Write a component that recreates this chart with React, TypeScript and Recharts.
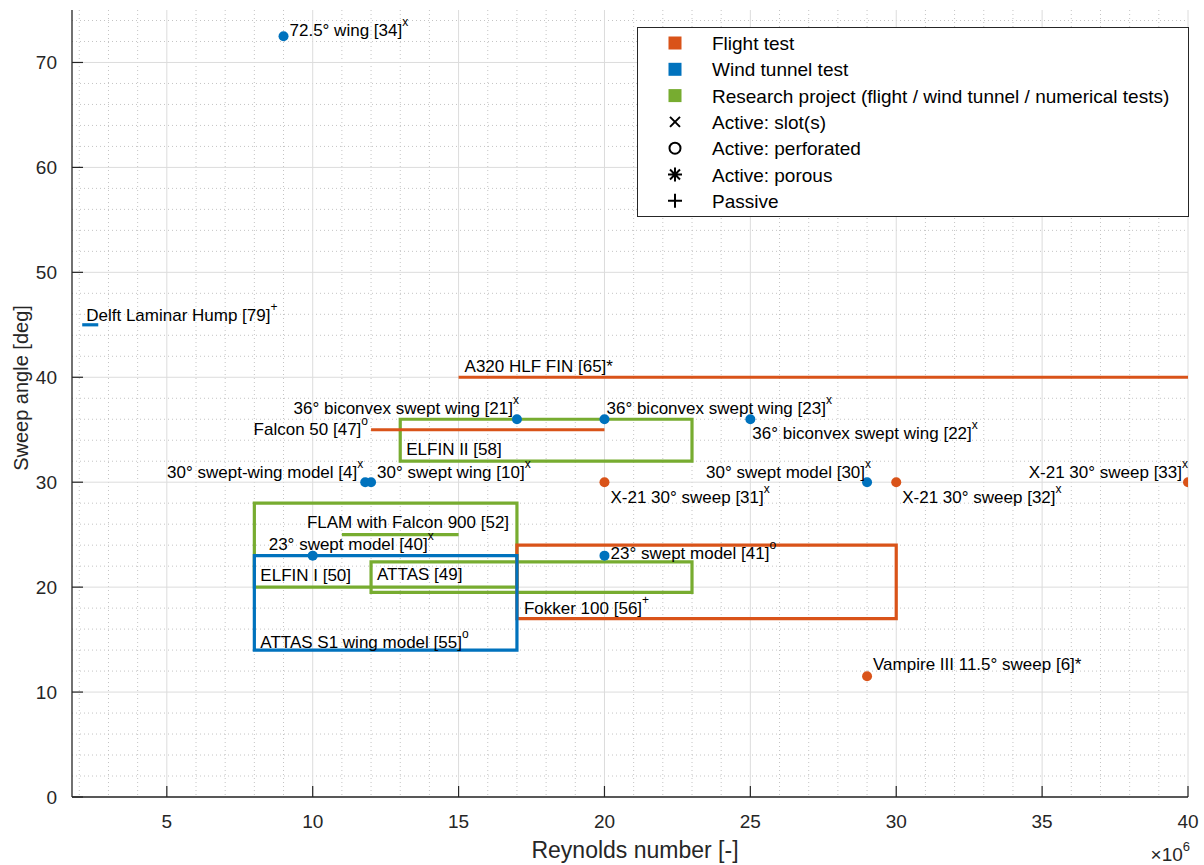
import React from 'react';
import {
  ComposedChart,
  XAxis,
  YAxis,
  CartesianGrid,
  Scatter,
  ReferenceArea,
  ReferenceLine,
  Legend,
} from 'recharts';

const FLIGHT = '#D95319';
const TUNNEL = '#0072BD';
const PROJECT = '#77AC30';
const INK = '#262626';
const FONT = '"Liberation Sans", Arial, Helvetica, sans-serif';

// Reynolds number (x10^6) vs sweep angle (deg)
const flightPoints = [
  { x: 20, y: 30, name: 'X-21 30° sweep [31]', sup: 'x' },
  { x: 30, y: 30, name: 'X-21 30° sweep [32]', sup: 'x' },
  { x: 40, y: 30, name: 'X-21 30° sweep [33]', sup: 'x' },
  { x: 29, y: 11.5, name: 'Vampire III 11.5° sweep [6]*', sup: '' },
];
const tunnelPoints = [
  { x: 9, y: 72.5, name: '72.5° wing [34]', sup: 'x' },
  { x: 17, y: 36, name: '36° biconvex swept wing [21]', sup: 'x' },
  { x: 20, y: 36, name: '36° biconvex swept wing [23]', sup: 'x' },
  { x: 25, y: 36, name: '36° biconvex swept wing [22]', sup: 'x' },
  { x: 11.8, y: 30, name: '30° swept-wing model [4]', sup: 'x' },
  { x: 12, y: 30, name: '30° swept wing [10]', sup: 'x' },
  { x: 29, y: 30, name: '30° swept model [30]', sup: 'x' },
  { x: 10, y: 23, name: '23° swept model [40]', sup: 'x' },
  { x: 20, y: 23, name: '23° swept model [41]', sup: 'o' },
];
const flightRanges = [
  { x1: 15, x2: 40, y: 40, name: 'A320 HLF FIN [65]*', sup: '' },
  { x1: 12, x2: 20, y: 35, name: 'Falcon 50 [47]', sup: 'o' },
];
const tunnelRanges = [{ x1: 2.1, x2: 2.65, y: 45, name: 'Delft Laminar Hump [79]', sup: '+' }];
const projectRanges = [{ x1: 11, x2: 15, y: 25, name: 'FLAM with Falcon 900 [52]', sup: '' }];
const flightBoxes = [{ x1: 17, x2: 30, y1: 17, y2: 24, name: 'Fokker 100 [56]', sup: '+' }];
const projectBoxes = [
  { x1: 13, x2: 23, y1: 32, y2: 36, name: 'ELFIN II [58]', sup: '' },
  { x1: 8, x2: 17, y1: 20, y2: 28, name: 'ELFIN I [50]', sup: '' },
  { x1: 12, x2: 23, y1: 19.5, y2: 22.4, name: 'ATTAS [49]', sup: '' },
];
const tunnelBoxes = [{ x1: 8, x2: 17, y1: 14, y2: 23, name: 'ATTAS S1 wing model [55]', sup: 'o' }];

const xTicks = [5, 10, 15, 20, 25, 30, 35, 40];
const yTicks = [0, 10, 20, 30, 40, 50, 60, 70];
const xMinor = [2, 3, 4, 6, 7, 8, 9, 11, 12, 13, 14, 16, 17, 18, 19, 21, 22, 23, 24, 26, 27, 28, 29, 31, 32, 33, 34, 36, 37, 38, 39];
const yMinor = [2, 4, 6, 8, 12, 14, 16, 18, 22, 24, 26, 28, 32, 34, 36, 38, 42, 44, 46, 48, 52, 54, 56, 58, 62, 64, 66, 68, 72, 74];

const legendRows = [
  { label: 'Flight test', mark: 'square', color: FLIGHT },
  { label: 'Wind tunnel test', mark: 'square', color: TUNNEL },
  { label: 'Research project (flight / wind tunnel / numerical tests)', mark: 'square', color: PROJECT },
  { label: 'Active: slot(s)', mark: 'cross', color: '#000' },
  { label: 'Active: perforated', mark: 'circle', color: '#000' },
  { label: 'Active: porous', mark: 'star', color: '#000' },
  { label: 'Passive', mark: 'plus', color: '#000' },
];

// label placement: pixel offset from anchor, text anchor, box corner
const LABEL_AT: Record<string, [number, number, 'start' | 'end', string?]> = {
  '72.5° wing [34]': [6, 0, 'start'],
  '36° biconvex swept wing [21]': [2, -5, 'end'],
  '36° biconvex swept wing [23]': [2, -5, 'start'],
  '36° biconvex swept wing [22]': [2, 20, 'start'],
  '30° swept-wing model [4]': [-2, -4, 'end'],
  '30° swept wing [10]': [6, -4, 'start'],
  '30° swept model [30]': [4, -4, 'end'],
  '23° swept model [40]': [-44, -6, 'start'],
  '23° swept model [41]': [6, 3, 'start'],
  'X-21 30° sweep [31]': [6, 21, 'start'],
  'X-21 30° sweep [32]': [6, 21, 'start'],
  'X-21 30° sweep [33]': [0, -4, 'end'],
  'Vampire III 11.5° sweep [6]*': [6, -6, 'start'],
  'A320 HLF FIN [65]*': [6, -5, 'start'],
  'Falcon 50 [47]': [-3, 5, 'end'],
  'Delft Laminar Hump [79]': [4, -4, 'start'],
  'FLAM with Falcon 900 [52]': [-35, -7, 'start'],
  'Fokker 100 [56]': [7, -5, 'start', 'bl'],
  'ELFIN II [58]': [6, -6, 'start', 'bl'],
  'ELFIN I [50]': [6, -6, 'start', 'bl'],
  'ATTAS [49]': [6, 18, 'start', 'tl'],
  'ATTAS S1 wing model [55]': [6, -2, 'start', 'bl'],
};

const Annot = ({ x, y, name, sup }: any) => {
  const [dx, dy, anchor] = LABEL_AT[name] || [6, 0, 'start'];
  return (
    <text x={x + dx} y={y + dy} textAnchor={anchor} fontSize={17} fill="#000" fontFamily={FONT}>
      {name}
      {sup ? (
        <tspan dy={-10} fontSize={12}>
          {sup}
        </tspan>
      ) : null}
    </text>
  );
};

const dotShape = (color: string) => (props: any) => {
  const { cx, cy, payload } = props;
  return (
    <g>
      <circle cx={cx} cy={cy} r={5} fill={color} />
      <Annot x={cx} y={cy} name={payload.name} sup={payload.sup} />
    </g>
  );
};

const lineLabel = (item: any) => (props: any) => {
  const vb = props.viewBox || {};
  return <Annot x={vb.x} y={vb.y} name={item.name} sup={item.sup} />;
};

const boxLabel = (item: any) => (props: any) => {
  const vb = props.viewBox || {};
  const corner = (LABEL_AT[item.name] || [])[3];
  const y = corner === 'tl' ? vb.y : vb.y + vb.height;
  return <Annot x={vb.x} y={y} name={item.name} sup={item.sup} />;
};

const XTick = (props: any) => {
  const { x, y, payload } = props;
  return (
    <g>
      <line x1={x} x2={x} y1={y} y2={y - 11} stroke={INK} strokeWidth={1.2} />
      <text x={x} y={y + 31} textAnchor="middle" fontSize={19} fill={INK} fontFamily={FONT}>
        {payload.value}
      </text>
    </g>
  );
};

const YTick = (props: any) => {
  const { x, y, payload } = props;
  return (
    <g>
      <line x1={x} x2={x + 11} y1={y} y2={y} stroke={INK} strokeWidth={1.2} />
      <text x={x - 15} y={y + 7} textAnchor="end" fontSize={19} fill={INK} fontFamily={FONT}>
        {payload.value}
      </text>
    </g>
  );
};

const XTitle = (props: any) => {
  const vb = props.viewBox || {};
  return (
    <g fontFamily={FONT} fill={INK}>
      <text x={vb.x + vb.width / 2 + 5} y={858} textAnchor="middle" fontSize={23}>
        Reynolds number [-]
      </text>
      <text x={vb.x + vb.width + 2} y={861} textAnchor="end" fontSize={19}>
        ×10
        <tspan dy={-10} fontSize={13}>
          6
        </tspan>
      </text>
    </g>
  );
};

const YTitle = (props: any) => {
  const cy = 388;
  return (
    <text
      x={28}
      y={cy}
      transform={`rotate(-90 28 ${cy})`}
      textAnchor="middle"
      fontSize={20}
      fill={INK}
      fontFamily={FONT}
    >
      Sweep angle [deg]
    </text>
  );
};

const Mark = ({ kind, color }: any) => {
  if (kind === 'square') return <rect x={-6.5} y={-6.5} width={13} height={13} fill={color} />;
  if (kind === 'cross')
    return <path d="M-5,-5L5,5M-5,5L5,-5" stroke={color} strokeWidth={2} />;
  if (kind === 'circle') return <circle r={5.5} fill="none" stroke={color} strokeWidth={2} />;
  if (kind === 'star')
    return <path d="M0,-7L0,7M-7,0L7,0M-5,-5L5,5M-5,5L5,-5" stroke={color} strokeWidth={2} />;
  return <path d="M0,-7L0,7M-7,0L7,0" stroke={color} strokeWidth={2} />;
};

const LegendBox = () => (
  <svg width={552} height={190} style={{ display: 'block' }}>
    <rect x={0.5} y={0.5} width={551} height={189} fill="#fff" stroke={INK} strokeWidth={1} />
    {legendRows.map((r, i) => {
      const cy = 16 + i * 26.3;
      return (
        <g key={r.label}>
          <g transform={`translate(38 ${cy})`}>
            <Mark kind={r.mark} color={r.color} />
          </g>
          <text x={75} y={cy + 7} fontSize={19} fill="#000" fontFamily={FONT}>
            {r.label}
          </text>
        </g>
      );
    })}
  </svg>
);

export default function App() {
  return (
    <div style={{ position: 'absolute', left: 0, top: 0, background: '#fff' }}>
      <ComposedChart
        width={1204}
        height={865}
        margin={{ top: 10, right: 16, bottom: 0, left: 0 }}
        style={{ fontFamily: FONT }}
      >
        <CartesianGrid
          verticalValues={xMinor}
          horizontalValues={yMinor}
          stroke="#c4c4c4"
          strokeDasharray="1 3"
        />
        <CartesianGrid verticalValues={xTicks} horizontalValues={yTicks} stroke="#dcdcdc" />
        <XAxis
          type="number"
          dataKey="x"
          domain={[1.75, 40]}
          ticks={xTicks}
          interval={0}
          allowDataOverflow
          height={68}
          tickSize={0}
          tickMargin={0}
          tickLine={false}
          tick={<XTick />}
          axisLine={{ stroke: INK, strokeWidth: 1.3 }}
          label={{ content: XTitle }}
        />
        <YAxis
          type="number"
          dataKey="y"
          domain={[0, 75]}
          ticks={yTicks}
          interval={0}
          allowDataOverflow
          width={72}
          tickSize={0}
          tickMargin={0}
          tickLine={false}
          tick={<YTick />}
          axisLine={{ stroke: INK, strokeWidth: 1.3 }}
          label={{ content: YTitle }}
        />
        {projectBoxes.map((b) => (
          <ReferenceArea
            key={b.name}
            x1={b.x1}
            x2={b.x2}
            y1={b.y1}
            y2={b.y2}
            fill="none"
            fillOpacity={0}
            stroke={PROJECT}
            strokeWidth={3.2}
            label={boxLabel(b)}
          />
        ))}
        {projectRanges.map((r) => (
          <ReferenceLine
            key={r.name}
            segment={[
              { x: r.x1, y: r.y },
              { x: r.x2, y: r.y },
            ]}
            stroke={PROJECT}
            strokeWidth={3.2}
            label={lineLabel(r)}
          />
        ))}
        {flightBoxes.map((b) => (
          <ReferenceArea
            key={b.name}
            x1={b.x1}
            x2={b.x2}
            y1={b.y1}
            y2={b.y2}
            fill="none"
            fillOpacity={0}
            stroke={FLIGHT}
            strokeWidth={3.2}
            label={boxLabel(b)}
          />
        ))}
        {flightRanges.map((r) => (
          <ReferenceLine
            key={r.name}
            segment={[
              { x: r.x1, y: r.y },
              { x: r.x2, y: r.y },
            ]}
            stroke={FLIGHT}
            strokeWidth={3.2}
            label={lineLabel(r)}
          />
        ))}
        {tunnelBoxes.map((b) => (
          <ReferenceArea
            key={b.name}
            x1={b.x1}
            x2={b.x2}
            y1={b.y1}
            y2={b.y2}
            fill="none"
            fillOpacity={0}
            stroke={TUNNEL}
            strokeWidth={3.2}
            label={boxLabel(b)}
          />
        ))}
        {tunnelRanges.map((r) => (
          <ReferenceLine
            key={r.name}
            segment={[
              { x: r.x1, y: r.y },
              { x: r.x2, y: r.y },
            ]}
            stroke={TUNNEL}
            strokeWidth={3.2}
            label={lineLabel(r)}
          />
        ))}
        <Scatter data={flightPoints} fill={FLIGHT} shape={dotShape(FLIGHT)} isAnimationActive={false} />
        <Scatter data={tunnelPoints} fill={TUNNEL} shape={dotShape(TUNNEL)} isAnimationActive={false} />
        <Legend
          layout="vertical"
          align="center"
          verticalAlign="middle"
          content={LegendBox}
          wrapperStyle={{ left: 637, top: 27, width: 552, height: 190 }}
        />
      </ComposedChart>
    </div>
  );
}
